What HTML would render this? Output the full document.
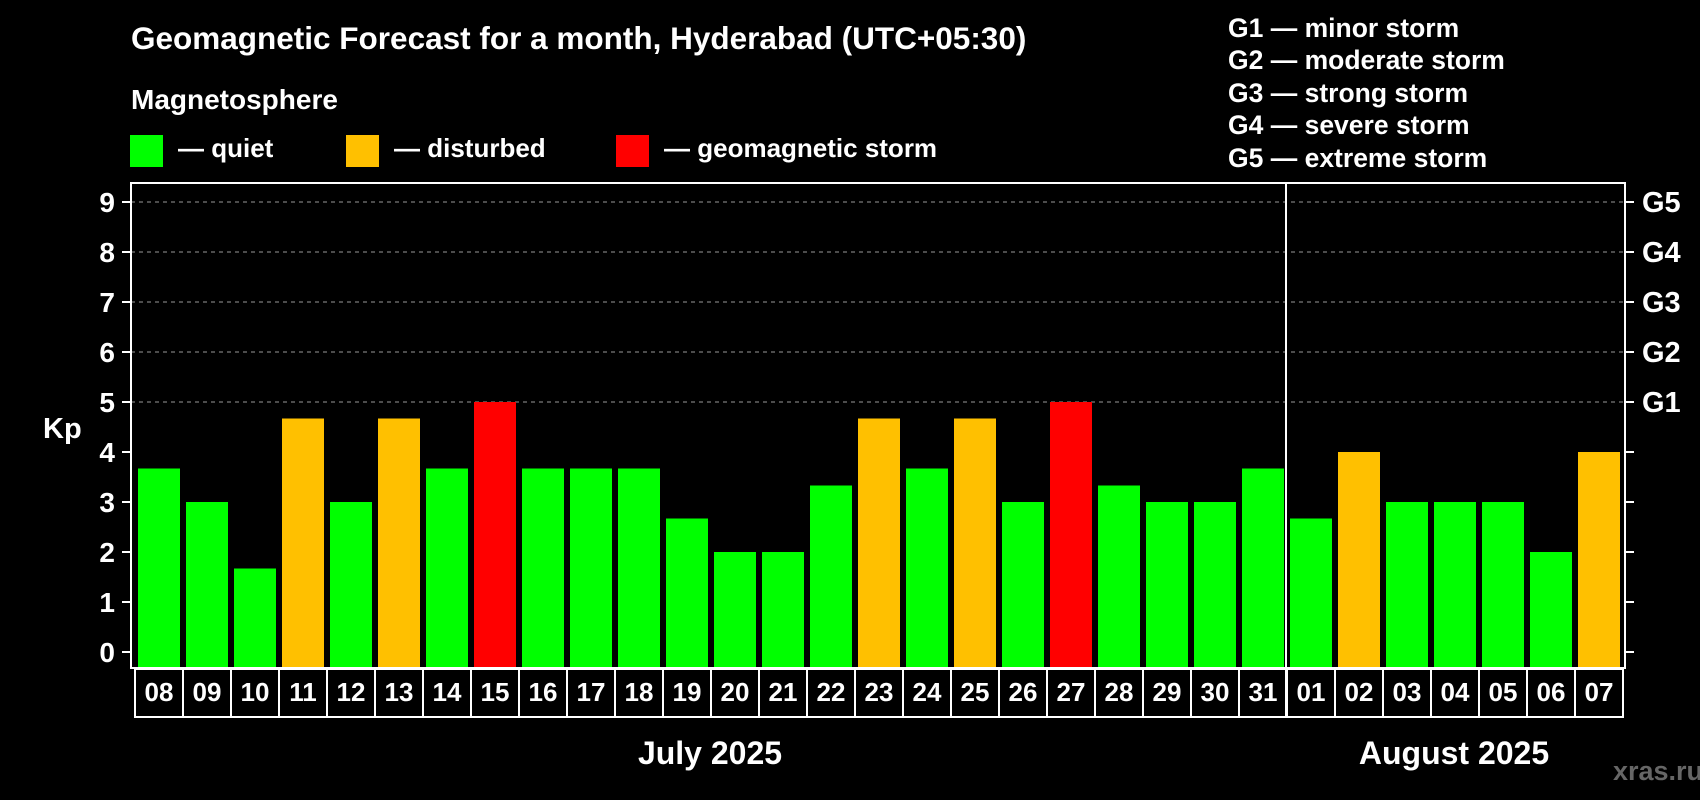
<!DOCTYPE html>
<html><head><meta charset="utf-8"><style>
html,body{margin:0;padding:0;background:#000;}
svg{display:block;font-family:"Liberation Sans",Arial,sans-serif;font-weight:bold;}
</style></head><body>
<svg id="chart" width="1700" height="800" viewBox="0 0 1700 800">
<rect width="1700" height="800" fill="#000"/>
<text x="131" y="49" font-size="31.5" fill="#fff">Geomagnetic Forecast for a month, Hyderabad (UTC+05:30)</text>
<text x="131" y="109" font-size="28" fill="#fff">Magnetosphere</text>
<g><rect x="130" y="135" width="33" height="32" fill="#00ff00"/><text x="178" y="157" font-size="26" fill="#fff">— quiet</text></g>
<g><rect x="346" y="135" width="33" height="32" fill="#ffc000"/><text x="394" y="157" font-size="26" fill="#fff">— disturbed</text></g>
<g><rect x="616" y="135" width="33" height="32" fill="#ff0000"/><text x="664" y="157" font-size="26" fill="#fff">— geomagnetic storm</text></g>
<g font-size="26.5" fill="#fff">
<text x="1228" y="37">G1 — minor storm</text>
<text x="1228" y="69">G2 — moderate storm</text>
<text x="1228" y="102">G3 — strong storm</text>
<text x="1228" y="134">G4 — severe storm</text>
<text x="1228" y="167">G5 — extreme storm</text>
</g>
<g id="grid"></g>
<g id="bars"></g>
<g id="axes"></g>
<text x="43" y="438" font-size="29" fill="#fff">Kp</text>
<text x="710" y="764" font-size="32" fill="#fff" text-anchor="middle">July 2025</text>
<text x="1454" y="764" font-size="32" fill="#fff" text-anchor="middle">August 2025</text>
<text x="1658" y="780" font-size="27" fill="#666" text-anchor="middle">xras.ru</text>
</svg>
<script>
const days = ["08","09","10","11","12","13","14","15","16","17","18","19","20","21","22","23","24","25","26","27","28","29","30","31","01","02","03","04","05","06","07"];
const kpValues = [3.67,3,1.67,4.67,3,4.67,3.67,5,3.67,3.67,3.67,2.67,2,2,3.33,4.67,3.67,4.67,3,5,3.33,3,3,3.67,2.67,4,3,3,3,2,4];
const yTicks = [0,1,2,3,4,5,6,7,8,9];
const gLabels = ["","","","","","G1","G2","G3","G4","G5"];
const NS="http://www.w3.org/2000/svg";
const L=131,R=1625,T=183,B=668,X0=135,SLOT=48,Y0=652,UNIT=(652-202)/9;
const yS=v=>Y0-v*UNIT;
const xS=i=>X0+i*SLOT;
function mk(tag,attrs,parent){const e=document.createElementNS(NS,tag);for(const k in attrs)e.setAttribute(k,attrs[k]);parent.appendChild(e);return e;}
const grid=document.getElementById('grid'),bars=document.getElementById('bars'),axes=document.getElementById('axes');
yTicks.forEach((t,i)=>{
  const y=yS(t);
  if(t>=5){const g=mk('line',{x1:L,x2:R,y1:y,y2:y,stroke:'#999','stroke-width':1,'stroke-dasharray':'4,4'},grid);
  
  }
  const tl=mk('line',{x1:122,x2:L,y1:y,y2:y,stroke:'#fff','stroke-width':2},axes);
  
  
  const tr=mk('line',{x1:R,x2:1634,y1:y,y2:y,stroke:'#fff','stroke-width':2},axes);
  
  
  const lb=mk('text',{x:115,y:y+10,'font-size':28,fill:'#fff','text-anchor':'end'},axes);lb.textContent=t;
  
  
  if(gLabels[i]){const gl=mk('text',{x:1642,y:y+10,'font-size':29,fill:'#fff'},axes);gl.textContent=gLabels[i];
  
  }
});
kpValues.forEach((v,i)=>{
  const col=v>=5?'#ff0000':(v>=4?'#ffc000':'#00ff00');
  const y=yS(v);
  const b=mk('rect',{x:xS(i)+3,y:y,width:42,height:B-y,fill:col},bars);
  
  
  const c=mk('rect',{x:xS(i),y:B+1,width:SLOT,height:48,fill:'none',stroke:'#fff','stroke-width':2},axes);
  
  
  const t=mk('text',{x:xS(i)+SLOT/2,y:B+33,'font-size':26,fill:'#fff','text-anchor':'middle'},axes);t.textContent=days[i];
  
  
});
const fr=mk('rect',{x:L,y:T,width:R-L,height:B-T,fill:'none',stroke:'#fff','stroke-width':2},axes);


const sx=xS(days.indexOf("01"))-1;
const sep=mk('line',{x1:sx,x2:sx,y1:T,y2:B+49,stroke:'#fff','stroke-width':2},axes);


</script>
</body></html>
